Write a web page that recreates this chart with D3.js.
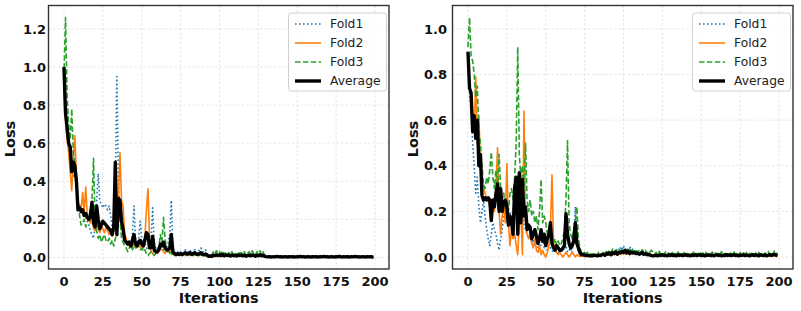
<!DOCTYPE html>
<html>
<head>
  <title>Loss per iteration</title>
  <script src="https://d3js.org/d3.v7.min.js"></script>
  <style>
    body { margin: 0; background: #fff; }
    text { font-family: "DejaVu Sans", sans-serif; }
    .tick-label { font-weight: bold; font-size: 13px; fill: #111; }
    .axis-title { font-weight: bold; font-size: 14.5px; fill: #111; }
    .legend text { font-size: 12.3px; fill: #222; }
    .grid line { stroke: #dedede; stroke-width: 0.8; stroke-dasharray: 2.5,2; }
    .line { fill: none; }
  </style>
</head>
<body>
<svg id="chart" width="801" height="311"></svg>
<script>
// ---- data ----
var seriesNames = ["Fold1", "Fold2", "Fold3", "Average"];
var xTicks = [0, 25, 50, 75, 100, 125, 150, 175, 200];
var leftYTicks = [0.0, 0.2, 0.4, 0.6, 0.8, 1.0, 1.2];
var rightYTicks = [0.0, 0.2, 0.4, 0.6, 0.8, 1.0];

// left panel, iterations 0..199
var leftFold1 = [
  0.87, 0.80, 0.68, 0.62, 0.55, 0.48, 0.42, 0.44, 0.38, 0.30,
  0.26, 0.24, 0.23, 0.22, 0.21, 0.19, 0.17, 0.14, 0.12, 0.10,
  0.16, 0.30, 0.44, 0.30, 0.28, 0.26, 0.28, 0.27, 0.25, 0.27,
  0.22, 0.15, 0.20, 0.35, 0.95, 0.40, 0.20, 0.15, 0.12, 0.10,
  0.08, 0.07, 0.09, 0.06, 0.12, 0.27, 0.08, 0.05, 0.10, 0.19,
  0.10, 0.06, 0.08, 0.05, 0.04, 0.06, 0.10, 0.26, 0.08, 0.03,
  0.05, 0.04, 0.06, 0.05, 0.04, 0.03, 0.05, 0.08, 0.12, 0.30,
  0.05, 0.03, 0.02, 0.03, 0.02, 0.03, 0.03, 0.02, 0.04, 0.03,
  0.03, 0.04, 0.02, 0.03, 0.04, 0.03, 0.02, 0.04, 0.05, 0.03,
  0.03, 0.04, 0.02, 0.01, 0.01, 0.005, 0.01, 0.008, 0.01, 0.006,
  0.010, 0.008, 0.006, 0.010, 0.008, 0.006, 0.011, 0.007, 0.009, 0.006,
  0.009, 0.007, 0.010, 0.006, 0.008, 0.011, 0.007, 0.009, 0.006, 0.010,
  0.008, 0.006, 0.009, 0.007, 0.010, 0.006, 0.008, 0.011, 0.007, 0.005,
  0.004, 0.003, 0.005, 0.003, 0.004, 0.002, 0.004, 0.003, 0.005, 0.003,
  0.004, 0.003, 0.002, 0.004, 0.003, 0.005, 0.003, 0.004, 0.002, 0.003,
  0.004, 0.003, 0.005, 0.002, 0.004, 0.003, 0.004, 0.002, 0.003, 0.004,
  0.003, 0.005, 0.003, 0.004, 0.002, 0.003, 0.004, 0.003, 0.005, 0.002,
  0.004, 0.003, 0.004, 0.002, 0.003, 0.005, 0.003, 0.004, 0.002, 0.003,
  0.004, 0.003, 0.002, 0.004, 0.003, 0.005, 0.003, 0.004, 0.002, 0.003,
  0.004, 0.003, 0.005, 0.002, 0.004, 0.003, 0.004, 0.002, 0.003, 0.004
];
var leftFold2 = [
  0.88, 0.72, 0.62, 0.55, 0.45, 0.35, 0.52, 0.64, 0.42, 0.26,
  0.28, 0.25, 0.34, 0.24, 0.37, 0.22, 0.20, 0.18, 0.24, 0.15,
  0.14, 0.18, 0.15, 0.13, 0.17, 0.15, 0.13, 0.16, 0.14, 0.12,
  0.13, 0.11, 0.15, 0.22, 0.25, 0.30, 0.55, 0.30, 0.27, 0.12,
  0.10, 0.07, 0.06, 0.08, 0.05, 0.07, 0.06, 0.05, 0.09, 0.06,
  0.04, 0.05, 0.10, 0.25, 0.36, 0.10, 0.03, 0.02, 0.04, 0.03,
  0.02, 0.03, 0.05, 0.04, 0.03, 0.02, 0.04, 0.03, 0.02, 0.05,
  0.02, 0.01, 0.015, 0.01, 0.02, 0.015, 0.01, 0.02, 0.01, 0.015,
  0.01, 0.02, 0.015, 0.01, 0.02, 0.01, 0.015, 0.01, 0.02, 0.01,
  0.01, 0.008, 0.01, 0.006, 0.008, 0.005, 0.006, 0.008, 0.005, 0.007,
  0.006, 0.008, 0.005, 0.010, 0.007, 0.012, 0.006, 0.009, 0.005, 0.011,
  0.007, 0.010, 0.006, 0.012, 0.008, 0.005, 0.010, 0.007, 0.011, 0.006,
  0.009, 0.005, 0.011, 0.007, 0.010, 0.006, 0.008, 0.005, 0.009, 0.004,
  0.003, 0.004, 0.002, 0.004, 0.003, 0.005, 0.002, 0.003, 0.004, 0.003,
  0.002, 0.004, 0.003, 0.005, 0.003, 0.002, 0.004, 0.003, 0.004, 0.002,
  0.003, 0.005, 0.002, 0.004, 0.003, 0.004, 0.002, 0.003, 0.005, 0.003,
  0.004, 0.002, 0.003, 0.004, 0.003, 0.005, 0.002, 0.004, 0.003, 0.004,
  0.002, 0.004, 0.003, 0.005, 0.003, 0.002, 0.004, 0.003, 0.004, 0.002,
  0.003, 0.005, 0.002, 0.004, 0.003, 0.004, 0.002, 0.003, 0.005, 0.003,
  0.004, 0.002, 0.003, 0.004, 0.003, 0.005, 0.002, 0.004, 0.003, 0.004
];
var leftFold3 = [
  0.95, 1.26, 0.85, 0.70, 0.62, 0.78, 0.55, 0.50, 0.40, 0.30,
  0.22, 0.17, 0.18, 0.20, 0.16, 0.18, 0.22, 0.25, 0.30, 0.52,
  0.18, 0.14, 0.10, 0.12, 0.08, 0.10, 0.12, 0.09, 0.08, 0.10,
  0.07, 0.09, 0.06, 0.10, 0.12, 0.25, 0.20, 0.10, 0.08, 0.06,
  0.05, 0.03, 0.05, 0.07, 0.04, 0.06, 0.05, 0.08, 0.06, 0.04,
  0.05, 0.03, 0.04, 0.02, 0.01, 0.02, 0.03, 0.02, 0.01, 0.02,
  0.03, 0.05, 0.12, 0.08, 0.21, 0.10, 0.04, 0.02, 0.03, 0.02,
  0.01, 0.02, 0.01, 0.015, 0.01, 0.02, 0.01, 0.015, 0.02, 0.01,
  0.015, 0.01, 0.02, 0.01, 0.015, 0.01, 0.02, 0.01, 0.015, 0.01,
  0.01, 0.008, 0.01, 0.005, 0.008, 0.01, 0.03, 0.02, 0.035, 0.02,
  0.03, 0.02, 0.035, 0.015, 0.03, 0.02, 0.025, 0.01, 0.03, 0.015,
  0.025, 0.01, 0.03, 0.02, 0.025, 0.015, 0.03, 0.01, 0.02, 0.03,
  0.015, 0.035, 0.02, 0.01, 0.03, 0.02, 0.035, 0.015, 0.03, 0.01,
  0.004, 0.003, 0.005, 0.002, 0.004, 0.003, 0.005, 0.003, 0.002, 0.004,
  0.003, 0.005, 0.002, 0.004, 0.003, 0.004, 0.002, 0.005, 0.003, 0.004,
  0.002, 0.003, 0.004, 0.005, 0.003, 0.002, 0.004, 0.003, 0.005, 0.002,
  0.004, 0.003, 0.005, 0.002, 0.004, 0.003, 0.004, 0.002, 0.003, 0.005,
  0.003, 0.004, 0.002, 0.005, 0.003, 0.004, 0.003, 0.002, 0.004, 0.003,
  0.005, 0.002, 0.004, 0.003, 0.004, 0.002, 0.005, 0.003, 0.004, 0.002,
  0.003, 0.004, 0.005, 0.002, 0.003, 0.004, 0.003, 0.005, 0.002, 0.004
];
var leftAverage = [
  1.00, 0.76, 0.68, 0.60, 0.58, 0.45, 0.50, 0.48, 0.40, 0.25,
  0.26, 0.24, 0.25, 0.22, 0.23, 0.21, 0.20, 0.22, 0.29, 0.18,
  0.16, 0.27, 0.20, 0.15, 0.17, 0.19, 0.18, 0.17, 0.16, 0.15,
  0.14, 0.12, 0.16, 0.50, 0.12, 0.31, 0.30, 0.19, 0.15, 0.09,
  0.08, 0.07, 0.08, 0.06, 0.09, 0.12, 0.07, 0.06, 0.08, 0.09,
  0.07, 0.06, 0.09, 0.13, 0.12, 0.05, 0.05, 0.11, 0.04, 0.03,
  0.03, 0.04, 0.07, 0.06, 0.08, 0.05, 0.04, 0.04, 0.05, 0.12,
  0.03, 0.02, 0.015, 0.02, 0.015, 0.02, 0.015, 0.02, 0.025, 0.018,
  0.02, 0.025, 0.015, 0.02, 0.025, 0.018, 0.015, 0.02, 0.025, 0.015,
  0.015, 0.018, 0.012, 0.006, 0.008, 0.005, 0.012, 0.01, 0.014, 0.01,
  0.014, 0.01, 0.015, 0.008, 0.013, 0.01, 0.012, 0.007, 0.013, 0.009,
  0.011, 0.007, 0.013, 0.01, 0.012, 0.008, 0.013, 0.006, 0.01, 0.012,
  0.008, 0.013, 0.01, 0.006, 0.012, 0.009, 0.014, 0.008, 0.012, 0.006,
  0.004, 0.003, 0.004, 0.002, 0.003, 0.004, 0.003, 0.005, 0.003, 0.004,
  0.002, 0.003, 0.004, 0.003, 0.002, 0.004, 0.003, 0.004, 0.002, 0.003,
  0.004, 0.003, 0.005, 0.003, 0.004, 0.002, 0.003, 0.004, 0.003, 0.002,
  0.004, 0.003, 0.004, 0.002, 0.003, 0.004, 0.003, 0.005, 0.003, 0.004,
  0.002, 0.003, 0.004, 0.003, 0.002, 0.004, 0.003, 0.006, 0.003, 0.002,
  0.004, 0.003, 0.004, 0.002, 0.003, 0.004, 0.003, 0.005, 0.003, 0.004,
  0.002, 0.003, 0.004, 0.003, 0.002, 0.004, 0.003, 0.004, 0.002, 0.003
];

// right panel, iterations 0..199
var rightFold1 = [
  0.88, 0.72, 0.65, 0.50, 0.40, 0.28, 0.35, 0.22, 0.15, 0.20,
  0.25, 0.18, 0.12, 0.08, 0.05, 0.10, 0.15, 0.12, 0.10, 0.06,
  0.03, 0.08, 0.12, 0.18, 0.22, 0.15, 0.18, 0.20, 0.15, 0.22,
  0.25, 0.28, 0.30, 0.22, 0.28, 0.20, 0.15, 0.12, 0.10, 0.08,
  0.10, 0.06, 0.08, 0.05, 0.07, 0.04, 0.06, 0.05, 0.08, 0.04,
  0.05, 0.03, 0.06, 0.04, 0.03, 0.02, 0.04, 0.03, 0.02, 0.03,
  0.02, 0.04, 0.03, 0.05, 0.02, 0.03, 0.04, 0.02, 0.10, 0.22,
  0.06, 0.02, 0.01, 0.008, 0.01, 0.005, 0.008, 0.006, 0.005, 0.008,
  0.005, 0.008, 0.006, 0.005, 0.01, 0.008, 0.012, 0.015, 0.01, 0.018,
  0.02, 0.015, 0.025, 0.02, 0.03, 0.02, 0.035, 0.025, 0.04, 0.03,
  0.05, 0.03, 0.04, 0.025, 0.045, 0.03, 0.035, 0.025, 0.03, 0.02,
  0.025, 0.02, 0.015, 0.02, 0.012, 0.015, 0.01, 0.012, 0.008, 0.01,
  0.008, 0.006, 0.010, 0.007, 0.005, 0.009, 0.006, 0.008, 0.005, 0.007,
  0.006, 0.009, 0.005, 0.008, 0.006, 0.010, 0.007, 0.005, 0.008, 0.006,
  0.009, 0.005, 0.007, 0.010, 0.006, 0.008, 0.005, 0.009, 0.007, 0.006,
  0.008, 0.010, 0.006, 0.007, 0.005, 0.009, 0.008, 0.006, 0.010, 0.007,
  0.005, 0.008, 0.006, 0.009, 0.007, 0.005, 0.010, 0.006, 0.008, 0.007,
  0.009, 0.006, 0.008, 0.005, 0.010, 0.007, 0.006, 0.009, 0.005, 0.008,
  0.007, 0.010, 0.005, 0.008, 0.006, 0.009, 0.007, 0.005, 0.008, 0.006,
  0.010, 0.006, 0.009, 0.007, 0.005, 0.008, 0.006, 0.010, 0.007, 0.005
];
var rightFold2 = [
  0.90, 0.75, 0.70, 0.60, 0.55, 0.79, 0.50, 0.62, 0.40, 0.35,
  0.30, 0.28, 0.26, 0.25, 0.22, 0.18, 0.25, 0.20, 0.30, 0.48,
  0.20, 0.10, 0.18, 0.22, 0.15, 0.41, 0.15, 0.05, 0.12, 0.08,
  0.10, 0.05, 0.01, 0.15, 0.20, 0.01, 0.64, 0.15, 0.10, 0.08,
  0.10, 0.06, 0.04, 0.08, 0.03, 0.02, 0.05, 0.01, 0.03, 0.01,
  0.00, 0.02, 0.05, 0.12, 0.36, 0.06, 0.03, 0.02, 0.01, 0.02,
  0.01, 0.00, 0.01, 0.02, 0.01, 0.00, 0.01, 0.02, 0.01, 0.00,
  0.01, 0.005, 0.003, 0.005, 0.003, 0.004, 0.003, 0.005, 0.003, 0.004,
  0.004, 0.006, 0.004, 0.007, 0.005, 0.008, 0.006, 0.009, 0.007, 0.010,
  0.008, 0.011, 0.009, 0.012, 0.010, 0.013, 0.011, 0.014, 0.012, 0.015,
  0.013, 0.016, 0.012, 0.018, 0.014, 0.017, 0.013, 0.019, 0.015, 0.018,
  0.014, 0.017, 0.013, 0.016, 0.012, 0.015, 0.011, 0.013, 0.009, 0.010,
  0.006, 0.004, 0.007, 0.005, 0.003, 0.006, 0.004, 0.008, 0.005, 0.003,
  0.006, 0.004, 0.007, 0.003, 0.005, 0.008, 0.004, 0.006, 0.003, 0.005,
  0.007, 0.004, 0.006, 0.003, 0.008, 0.005, 0.004, 0.007, 0.003, 0.006,
  0.005, 0.003, 0.007, 0.004, 0.006, 0.008, 0.003, 0.005, 0.004, 0.007,
  0.004, 0.006, 0.003, 0.008, 0.005, 0.004, 0.007, 0.003, 0.006, 0.005,
  0.003, 0.007, 0.004, 0.006, 0.003, 0.005, 0.008, 0.004, 0.006, 0.003,
  0.005, 0.004, 0.007, 0.003, 0.006, 0.005, 0.004, 0.008, 0.003, 0.005,
  0.006, 0.003, 0.005, 0.007, 0.004, 0.006, 0.003, 0.005, 0.004, 0.006
];
var rightFold3 = [
  0.92, 1.05, 0.88, 0.86, 0.80, 0.70, 0.75, 0.55, 0.50, 0.40,
  0.32, 0.30, 0.35, 0.32, 0.38, 0.46, 0.35, 0.30, 0.38, 0.30,
  0.45, 0.30, 0.25, 0.28, 0.22, 0.25, 0.20, 0.28, 0.30, 0.25,
  0.35, 0.50, 0.92, 0.45, 0.35, 0.40, 0.30, 0.50, 0.25, 0.20,
  0.25, 0.18, 0.20, 0.15, 0.18, 0.12, 0.20, 0.34, 0.15, 0.18,
  0.15, 0.10, 0.12, 0.08, 0.10, 0.06, 0.08, 0.05, 0.07, 0.05,
  0.06, 0.08, 0.12, 0.25, 0.51, 0.15, 0.10, 0.08, 0.12, 0.15,
  0.22, 0.08, 0.04, 0.02, 0.025, 0.02, 0.015, 0.02, 0.01, 0.015,
  0.01, 0.02, 0.012, 0.01, 0.02, 0.015, 0.01, 0.02, 0.012, 0.025,
  0.02, 0.03, 0.02, 0.035, 0.025, 0.03, 0.02, 0.035, 0.025, 0.03,
  0.022, 0.032, 0.02, 0.028, 0.035, 0.018, 0.03, 0.022, 0.034, 0.02,
  0.028, 0.018, 0.032, 0.024, 0.03, 0.016, 0.028, 0.022, 0.03, 0.02,
  0.012, 0.02, 0.01, 0.025, 0.014, 0.02, 0.01, 0.022, 0.012, 0.018,
  0.01, 0.024, 0.012, 0.016, 0.008, 0.022, 0.012, 0.018, 0.01, 0.02,
  0.012, 0.016, 0.008, 0.02, 0.01, 0.022, 0.012, 0.016, 0.01, 0.024,
  0.012, 0.018, 0.008, 0.02, 0.012, 0.016, 0.01, 0.022, 0.012, 0.018,
  0.01, 0.02, 0.012, 0.024, 0.01, 0.016, 0.008, 0.02, 0.012, 0.018,
  0.01, 0.022, 0.012, 0.016, 0.01, 0.02, 0.008, 0.018, 0.012, 0.02,
  0.01, 0.016, 0.012, 0.022, 0.01, 0.018, 0.008, 0.02, 0.012, 0.016,
  0.01, 0.018, 0.012, 0.025, 0.01, 0.02, 0.012, 0.026, 0.015, 0.018
];
var rightAverage = [
  0.90, 0.74, 0.72, 0.55, 0.62, 0.52, 0.60, 0.40, 0.45, 0.27,
  0.25, 0.26, 0.25, 0.26, 0.25, 0.16, 0.25, 0.22, 0.28, 0.32,
  0.20, 0.30, 0.20, 0.24, 0.25, 0.22, 0.14, 0.18, 0.15, 0.10,
  0.30, 0.35, 0.10, 0.37, 0.15, 0.34, 0.18, 0.22, 0.12, 0.14,
  0.13, 0.08, 0.10, 0.12, 0.09, 0.06, 0.08, 0.12, 0.07, 0.10,
  0.05, 0.08, 0.10, 0.15, 0.06, 0.04, 0.03, 0.05, 0.04, 0.03,
  0.03, 0.04, 0.05, 0.19, 0.10, 0.06, 0.04, 0.05, 0.07, 0.15,
  0.06, 0.04, 0.02, 0.01, 0.012, 0.008, 0.006, 0.008, 0.005, 0.006,
  0.005, 0.008, 0.006, 0.005, 0.008, 0.006, 0.01, 0.012, 0.008, 0.015,
  0.012, 0.018, 0.01, 0.02, 0.015, 0.022, 0.012, 0.02, 0.018, 0.025,
  0.02, 0.03, 0.018, 0.025, 0.015, 0.022, 0.018, 0.02, 0.015, 0.018,
  0.012, 0.015, 0.02, 0.012, 0.015, 0.01, 0.012, 0.008, 0.006, 0.005,
  0.006, 0.008, 0.005, 0.009, 0.007, 0.010, 0.006, 0.008, 0.005, 0.009,
  0.007, 0.011, 0.006, 0.008, 0.005, 0.010, 0.007, 0.009, 0.006, 0.008,
  0.010, 0.006, 0.008, 0.005, 0.009, 0.007, 0.011, 0.006, 0.008, 0.010,
  0.006, 0.009, 0.005, 0.008, 0.007, 0.010, 0.006, 0.009, 0.005, 0.008,
  0.010, 0.007, 0.009, 0.005, 0.008, 0.006, 0.011, 0.007, 0.009, 0.006,
  0.008, 0.010, 0.006, 0.009, 0.005, 0.008, 0.007, 0.010, 0.006, 0.009,
  0.007, 0.005, 0.008, 0.010, 0.006, 0.009, 0.007, 0.005, 0.010, 0.008,
  0.006, 0.009, 0.005, 0.008, 0.011, 0.007, 0.010, 0.012, 0.008, 0.006
];

var styles = {
  Fold1: { color: "#1f77b4", width: 1.6, dash: "1.6,2.4" },
  Fold2: { color: "#ff7f0e", width: 1.6, dash: null },
  Fold3: { color: "#2ca02c", width: 1.6, dash: "5.5,2.4" },
  Average: { color: "#000000", width: 3.4, dash: null }
};

var svg = d3.select("#chart");

function drawPanel(p) {
  [p.fold1, p.fold2, p.fold3, p.average].forEach(function(arr, i) {
    if (arr.length !== 200) throw new Error(p.name + " series " + i + " has " + arr.length + " values");
  });
  var all = p.fold1.concat(p.fold2, p.fold3, p.average);
  var ymin = d3.min(all), ymax = d3.max(all);
  var ypad = (ymax - ymin) * 0.05;
  var xpad = 199 * 0.05;

  var x = d3.scaleLinear().domain([-xpad, 199 + xpad]).range([p.left, p.right]);
  var y = d3.scaleLinear().domain([ymin - ypad, ymax + ypad]).range([p.bottom, p.top]);

  var g = svg.append("g");

  // grid
  var grid = g.append("g").attr("class", "grid");
  grid.selectAll(".gx").data(xTicks).enter().append("line")
    .attr("x1", function(d) { return x(d); }).attr("x2", function(d) { return x(d); })
    .attr("y1", p.top).attr("y2", p.bottom);
  grid.selectAll(".gy").data(p.yTicks).enter().append("line")
    .attr("x1", p.left).attr("x2", p.right)
    .attr("y1", function(d) { return y(d); }).attr("y2", function(d) { return y(d); });

  // lines
  var line = d3.line()
    .x(function(d, i) { return x(i); })
    .y(function(d) { return y(d); });

  var seriesData = [p.fold1, p.fold2, p.fold3, p.average];
  seriesNames.forEach(function(name, i) {
    var s = styles[name];
    g.append("path")
      .datum(seriesData[i])
      .attr("class", "line")
      .attr("d", line)
      .style("stroke", s.color)
      .style("stroke-width", s.width)
      .style("stroke-dasharray", s.dash)
      .style("stroke-linejoin", "round");
  });

  // frame
  g.append("rect")
    .attr("x", p.left).attr("y", p.top)
    .attr("width", p.right - p.left).attr("height", p.bottom - p.top)
    .attr("fill", "none").attr("stroke", "#333").attr("stroke-width", 1.4);

  // tick labels
  g.selectAll(".xl").data(xTicks).enter().append("text")
    .attr("class", "tick-label")
    .attr("x", function(d) { return x(d); })
    .attr("y", p.bottom + 16.8)
    .attr("text-anchor", "middle")
    .text(function(d) { return d; });

  g.selectAll(".yl").data(p.yTicks).enter().append("text")
    .attr("class", "tick-label")
    .attr("x", p.yLabelEnd)
    .attr("y", function(d) { return y(d); })
    .attr("dy", "0.36em")
    .attr("text-anchor", "end")
    .text(function(d) { return d.toFixed(1); });

  // axis titles
  g.append("text")
    .attr("class", "axis-title")
    .attr("x", (p.left + p.right) / 2)
    .attr("y", 302.5)
    .attr("text-anchor", "middle")
    .text("Iterations");

  g.append("text")
    .attr("class", "axis-title")
    .attr("text-anchor", "middle")
    .attr("transform", "translate(" + p.lossX + ",139) rotate(-90)")
    .text("Loss");

  // legend
  var lg = g.append("g").attr("class", "legend")
    .attr("transform", "translate(" + (p.right - 100.5) + "," + (p.top + 7.5) + ")");
  lg.append("rect")
    .attr("width", 98).attr("height", 78).attr("rx", 3)
    .attr("fill", "#fff").attr("fill-opacity", 0.85)
    .attr("stroke", "#d0d0d0").attr("stroke-width", 1);
  seriesNames.forEach(function(name, i) {
    var s = styles[name];
    var yy = 11 + i * 19;
    lg.append("line")
      .attr("x1", 6.5).attr("x2", 32.5).attr("y1", yy).attr("y2", yy)
      .style("stroke", s.color)
      .style("stroke-width", s.width)
      .style("stroke-dasharray", s.dash);
    lg.append("text")
      .attr("x", 41.5).attr("y", yy).attr("dy", "0.36em")
      .text(name);
  });
}

drawPanel({
  name: "left", left: 48.5, right: 389, top: 5.5, bottom: 269,
  yTicks: leftYTicks, yLabelEnd: 46, lossX: 15,
  fold1: leftFold1, fold2: leftFold2, fold3: leftFold3, average: leftAverage
});

drawPanel({
  name: "right", left: 452.5, right: 793, top: 5.5, bottom: 269,
  yTicks: rightYTicks, yLabelEnd: 447, lossX: 418,
  fold1: rightFold1, fold2: rightFold2, fold3: rightFold3, average: rightAverage
});
</script>
</body>
</html>
